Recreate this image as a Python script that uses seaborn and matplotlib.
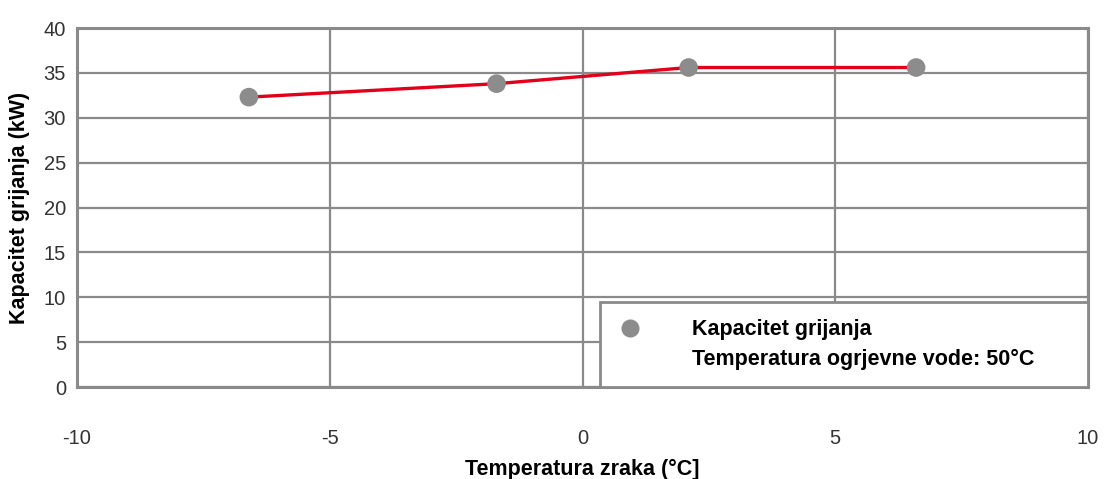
import matplotlib
matplotlib.use("Agg")
import matplotlib.pyplot as plt
from matplotlib.lines import Line2D
import seaborn as sns
import pandas as pd

temps = [-6.6, -1.7, 2.1, 6.6]
capacity = [32.3, 33.8, 35.6, 35.6]
x_ticks = [-10, -5, 0, 5, 10]
y_ticks = [0, 5, 10, 15, 20, 25, 30, 35, 40]
legend_lines = ["Kapacitet grijanja", "Temperatura ogrjevne vode: 50°C"]
x_label = "Temperatura zraka (°C]"
y_label = "Kapacitet grijanja (kW)"

sns.set_theme(style="white")
plt.rcParams['font.family'] = ['Liberation Sans', 'DejaVu Sans']

df = pd.DataFrame({"t": temps, "c": capacity})

fig = plt.figure(figsize=(11.05, 4.79), dpi=100)
ax = fig.add_axes([0.0697, 0.192, 0.9149, 0.7495])

sns.lineplot(data=df, x="t", y="c", ax=ax, color="#e3001b", linewidth=2.4, zorder=3)
sns.scatterplot(data=df, x="t", y="c", ax=ax, color="#8c8c8c", s=180,
                edgecolor="none", zorder=4)

ax.set_xlim(-10, 10)
ax.set_ylim(0, 40)
ax.set_xticks(x_ticks)
ax.set_yticks(y_ticks)
ax.set_xticklabels([str(v) for v in x_ticks])
ax.set_yticklabels([str(v) for v in y_ticks])
ax.grid(True, color="#8a8a8a", linewidth=1.6)
ax.set_axisbelow(True)
for s in ax.spines.values():
    s.set_color("#8a8a8a")
    s.set_linewidth(2.2)
ax.tick_params(axis="x", length=0, pad=30, labelsize=14.5, labelcolor="#333333")
ax.tick_params(axis="y", length=0, pad=8, labelsize=14.5, labelcolor="#333333")

ax.set_xlabel(x_label, fontsize=15.5, fontweight="bold", color="black", labelpad=8)
ax.set_ylabel(y_label, fontsize=15.5, fontweight="bold", color="black", labelpad=10)

handles = [
    Line2D([], [], marker="o", linestyle="none", markersize=13,
           markerfacecolor="#8c8c8c", markeredgecolor="none"),
    Line2D([], [], linestyle="none"),
]
leg = ax.legend(handles, legend_lines, loc="lower left",
                bbox_to_anchor=(0.5175, 0.0, 0.4825, 0.25), mode="expand",
                borderaxespad=0, frameon=True, fancybox=False,
                prop={"weight": "bold", "size": 15.5}, handlelength=1.2,
                handletextpad=2.25, borderpad=0.8, labelspacing=0.4)
frame = leg.get_frame()
frame.set_edgecolor("#8a8a8a")
frame.set_linewidth(2)
frame.set_facecolor("white")
frame.set_alpha(1)
leg.set_zorder(5)
for t in leg.get_texts():
    t.set_color("black")

fig.savefig("out.png", dpi=100)
